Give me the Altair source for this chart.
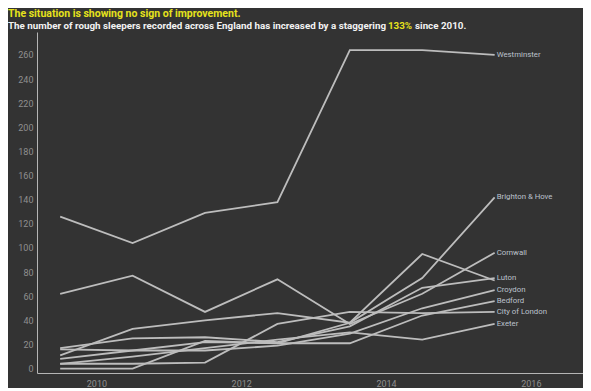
import altair as alt
import pandas as pd

# x positions of the yearly counts (as plotted, mid-year)
years = [2009.5, 2010.5, 2011.5, 2012.5, 2013.5, 2014.5, 2015.5]

westminster = [126, 104, 129, 138, 264, 264, 260]
brighton = [11, 33, 40, 46, 38, 75, 142]
cornwall = [62, 77, 47, 74, 37, 62, 96]
luton = [17, 25, 26, 22, 35, 67, 75]
bristol = [8, 15, 22, 21, 38, 95, 73]
croydon = [16, 15, 15, 19, 29, 50, 65]
bedford = [0, 0, 23, 21, 21, 44, 56]
city = [4, 4, 5, 37, 47, 46, 47]
exeter = [4, 10, 17, 24, 30, 24, 37]

names = ["Westminster", "Brighton & Hove", "Cornwall", "Luton", "Bristol",
         "Croydon", "Bedford", "City of London", "Exeter"]
values = [westminster, brighton, cornwall, luton, bristol,
          croydon, bedford, city, exeter]
show_label = [True, True, True, True, False, True, True, True, True]

x_ticks = [2010, 2012, 2014, 2016]
y_ticks = list(range(0, 261, 20))

title1 = "The situation is showing no sign of improvement."
title2a = "The number of rough sleepers recorded across England has increased by a staggering"
title2b = "133%"
title2c = "since 2010."

rows = []
for n, vals in zip(names, values):
    for yr, v in zip(years, vals):
        rows.append({"area": n, "year": yr, "count": v})
df = pd.DataFrame(rows)

lab = pd.DataFrame({
    "area": [n for n, s in zip(names, show_label) if s],
    "year": [years[-1] for n, s in zip(names, show_label) if s],
    "count": [v[-1] for v, s in zip(values, show_label) if s],
})

LINE = "#bdbdbd"
AXIS_TXT = "#8f8f8f"
YELLOW = "#e6e21c"
WHITE = "#f2f2f2"
FONT = "Roboto"

xs = alt.X("year:Q",
           scale=alt.Scale(domain=[2009.18, 2016.72], nice=False, zero=False),
           axis=alt.Axis(values=x_ticks, format="d", title=None, grid=False,
                         ticks=False, labelColor=AXIS_TXT, labelFontSize=9,
                         labelFont=FONT, domainColor="#b5b5b5",
                         domainWidth=1, labelPadding=6, labelOverlap=False))
ys = alt.Y("count:Q",
           scale=alt.Scale(domain=[-3.65, 279], nice=False, zero=False),
           axis=alt.Axis(values=y_ticks, title=None, grid=False, ticks=False,
                         labelColor=AXIS_TXT, labelFontSize=9, labelFont=FONT,
                         domainColor="#b5b5b5", domainWidth=1, labelPadding=4,
                         labelOverlap=False, labelBound=False))

lines = alt.Chart(df).mark_line(color=LINE, strokeWidth=1.8).encode(
    x=xs, y=ys, detail="area:N")

labels = alt.Chart(lab).mark_text(
    align="left", baseline="middle", dx=2, fontSize=7.8, font=FONT,
    color="#bcc2cc").encode(x=xs, y=ys, text="area:N")

def txt(s, x, y, color, size):
    return alt.Chart(pd.DataFrame({"t": [s]})).mark_text(
        align="left", baseline="middle", fontSize=size, fontWeight="bold",
        font=FONT, color=color).encode(
        x=alt.value(x), y=alt.value(y), text="t:N")

chart = alt.layer(
    lines, labels,
    txt(title1, -29, -18, YELLOW, 10.5),
    txt(title2a, -29, -6, WHITE, 9.8),
    txt(title2b, 351, -6, YELLOW, 9.8),
    txt(title2c, 378, -6, WHITE, 9.8),
).properties(
    width=546, height=341,
    autosize=alt.AutoSizeParams(type="none"),
    padding={"left": 29, "top": 24, "right": 0, "bottom": 15},
).configure(background="#333333").configure_view(stroke=None)

chart.save("out.html", embed_options={"renderer": "svg", "actions": False})
